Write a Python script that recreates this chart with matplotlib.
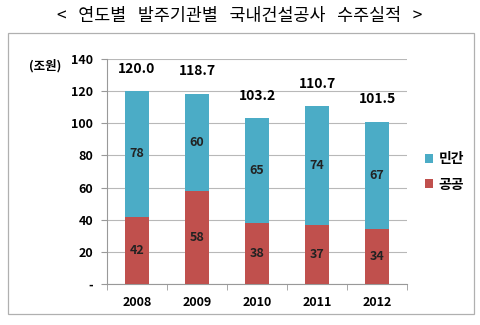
import matplotlib
matplotlib.use('Agg')
import matplotlib.pyplot as plt
from matplotlib.patches import Rectangle

plt.rcParams['font.family'] = ['Noto Sans CJK KR', 'DejaVu Sans']

years = ['2008', '2009', '2010', '2011', '2012']
public = [42, 58, 38, 37, 34]
private = [78, 60, 65, 74, 67]
totals = [120.0, 118.7, 103.2, 110.7, 101.5]
title = '<   연도별   발주기관별   국내건설공사   수주실적   >'

fig = plt.figure(figsize=(4.8, 3.25), dpi=100)
W, H = 480, 325

# outer frame around chart
fig.patches.append(Rectangle((8 / W, 1 - 314 / H), 466 / W, 281 / H,
                             transform=fig.transFigure, fill=False,
                             edgecolor='#b0b0b0', linewidth=0.9))
fig.text(0.5, 1 - 16 / H, title, ha='center', va='center',
         fontsize=12.5, fontweight='medium')

ax = fig.add_axes([107 / W, 1 - 284 / H, 300 / W, 225 / H])
x = range(len(years))
ax.bar(x, public, width=0.4, color='#C0504D', label='공공', zorder=3)
ax.bar(x, private, width=0.4, bottom=public, color='#4BACC6', label='민간', zorder=3)

for i in x:
    ax.text(i, public[i] / 2, str(public[i]), ha='center', va='center',
            fontsize=9, fontweight='bold', color='#222222', zorder=4)
    ax.text(i, public[i] + private[i] / 2, str(private[i]), ha='center', va='center',
            fontsize=9, fontweight='bold', color='#222222', zorder=4)
    ax.annotate(f'{totals[i]:.1f}', (i, totals[i]), xytext=(0, 16),
                textcoords='offset points', ha='center', va='center',
                fontsize=10, fontweight='bold', annotation_clip=False)

ax.set_xlim(-0.5, len(years) - 0.5)
ax.set_ylim(0, 140)
ax.set_yticks(range(0, 141, 20))
ax.set_yticklabels(['-'] + [str(v) for v in range(20, 141, 20)])
ax.set_xticks(x)
ax.set_xticklabels(years)
ax.set_xticks([i - 0.5 for i in range(len(years) + 1)], minor=True)
ax.yaxis.grid(True, color='#b8b8b8', linewidth=0.8, zorder=0)
ax.set_axisbelow(True)
for s in ['top', 'right']:
    ax.spines[s].set_visible(False)
for s in ['left', 'bottom']:
    ax.spines[s].set_color('#999999')
ax.tick_params(axis='y', length=4, color='#999999', labelsize=9, pad=6)
ax.tick_params(axis='x', which='major', length=0, labelsize=9, pad=9)
ax.tick_params(axis='x', which='minor', length=4, color='#999999')
for lab in ax.get_xticklabels() + ax.get_yticklabels():
    lab.set_fontweight('bold')

fig.text(45 / W, 1 - 66 / H, '(조원)', ha='center', va='center',
         fontsize=9, fontweight='bold')

handles, labels = ax.get_legend_handles_labels()
fig.legend(handles[::-1], labels[::-1], loc='center left',
           bbox_to_anchor=(412 / W, 1 - 172 / H), frameon=False,
           handlelength=0.6, handleheight=0.6,
           handletextpad=0.4, labelspacing=0.8,
           prop={'weight': 'bold', 'size': 10})

fig.savefig('out.png', dpi=100)
